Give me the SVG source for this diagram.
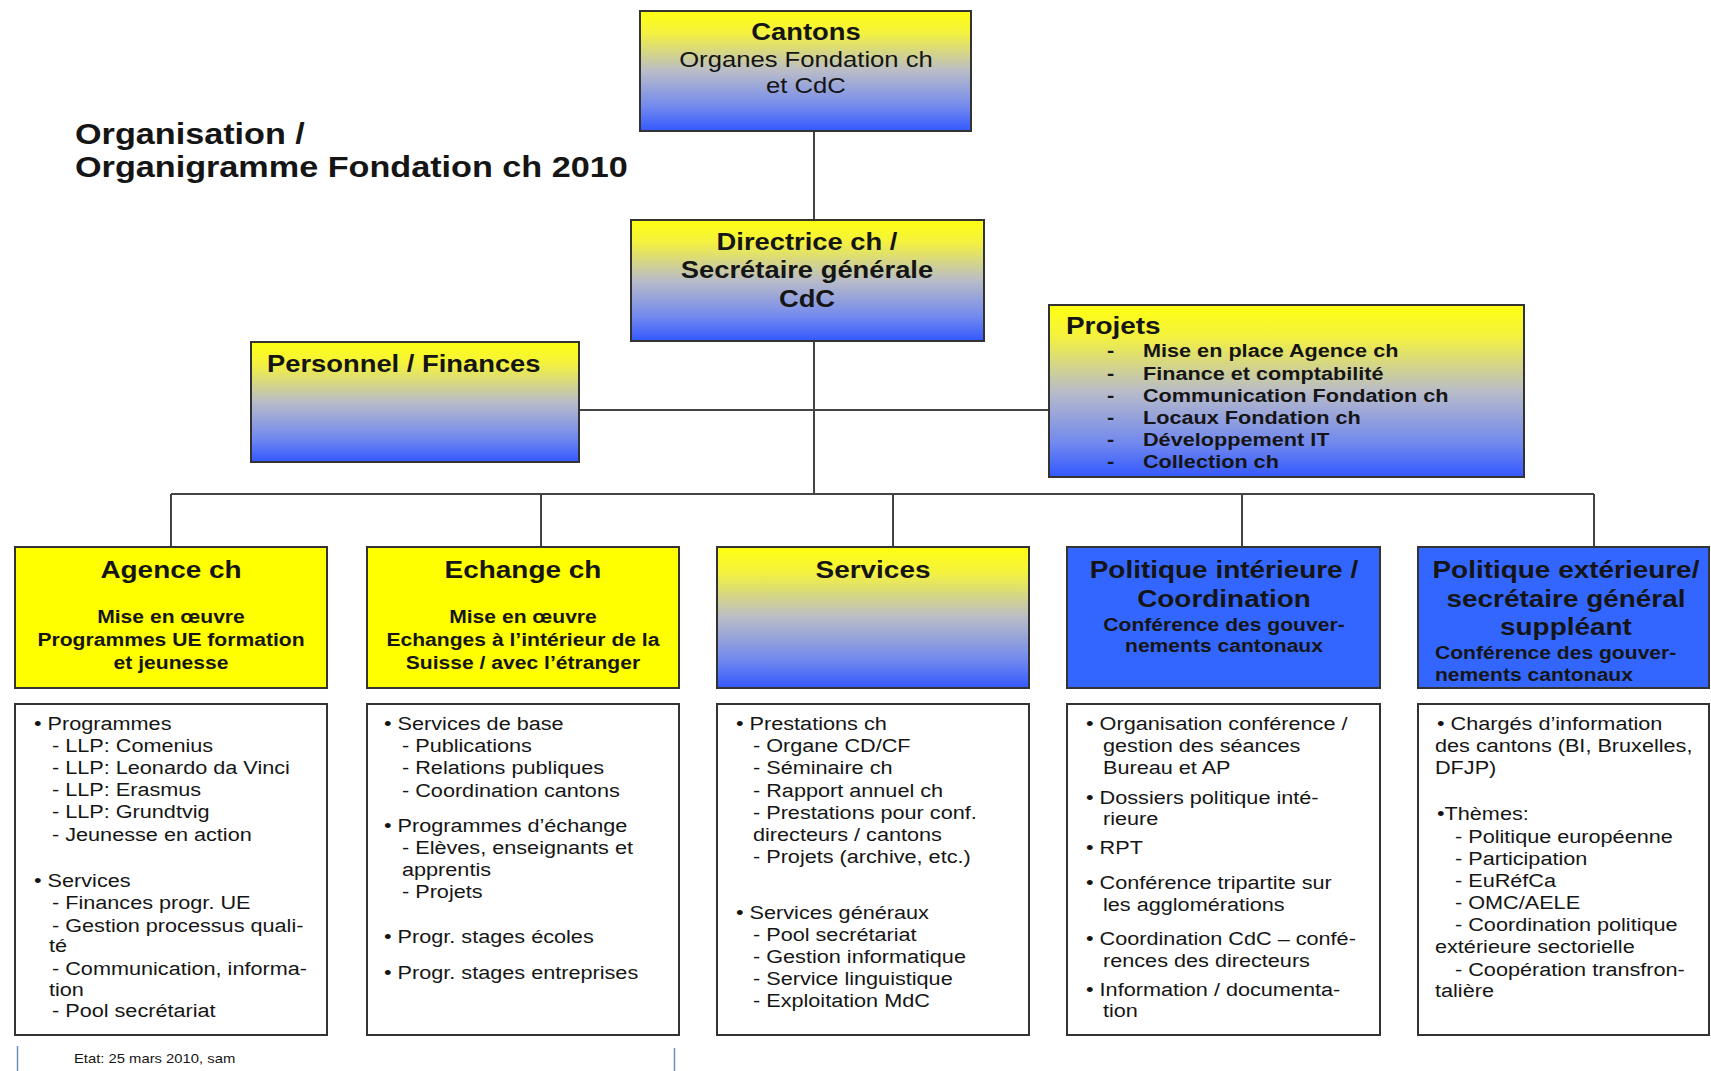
<svg xmlns="http://www.w3.org/2000/svg" width="1711" height="1071" viewBox="0 0 1711 1071">
<defs>
<linearGradient id="yb" x1="0" y1="0" x2="0" y2="1">
<stop offset="0" stop-color="#ffff10"/>
<stop offset="0.18" stop-color="#f4f23e"/>
<stop offset="0.5" stop-color="#b9bcc8"/>
<stop offset="0.8" stop-color="#7289ee"/>
<stop offset="1" stop-color="#3358ff"/>
</linearGradient>
<style>
text { font-family: "Liberation Sans", Arial, sans-serif; fill: #151515; transform-box: fill-box; transform-origin: 0 0; transform: scaleX(1.14); }
text.c { text-anchor: middle; transform-origin: 50% 0; }
.b { font-weight: bold; }
.h { font-size: 24.5px; font-weight: bold; }
.s { font-size: 18.5px; font-weight: bold; }
.p { font-size: 19px; }
.pj { font-size: 19px; font-weight: bold; }
.g { fill: url(#yb); stroke: #333; stroke-width: 2; }
.y { fill: #ffff00; stroke: #333; stroke-width: 2; }
.bl { fill: #3366ff; stroke: #333; stroke-width: 2; }
.w { fill: #ffffff; stroke: #333; stroke-width: 2; }
</style>
</defs>
<rect width="1711" height="1071" fill="#ffffff"/>

<g id="title">
<text class="b" x="75" y="144" font-size="30">Organisation /</text>
<text class="b" x="75" y="177" font-size="30">Organigramme Fondation ch 2010</text>
</g>

<g id="connectors" stroke="#444" stroke-width="2" fill="none">
<path d="M814 131V220"/>
<path d="M814 341V494"/>
<path d="M579 410H1049"/>
<path d="M171 494H1594"/>
<path d="M171 494V547M541 494V547M893 494V547M1242 494V547M1594 494V547"/>
</g>

<g id="cantons">
<rect class="g" x="640" y="11" width="331" height="120"/>
<text class="c b" x="806" y="40" font-size="24">Cantons</text>
<text class="c" x="806" y="67" font-size="22.5">Organes Fondation ch</text>
<text class="c" x="806" y="93" font-size="22.5">et CdC</text>
</g>

<g id="directrice">
<rect class="g" x="631" y="220" width="353" height="121"/>
<text class="c b" x="807" y="250" font-size="24">Directrice ch /</text>
<text class="c b" x="807" y="278" font-size="24">Secrétaire générale</text>
<text class="c b" x="807" y="307" font-size="24">CdC</text>
</g>

<g id="personnel">
<rect class="g" x="251" y="342" width="328" height="120"/>
<text class="b" x="267" y="372" font-size="24">Personnel / Finances</text>
</g>

<g id="projets">
<rect class="g" x="1049" y="305" width="475" height="172"/>
<text class="b" x="1066" y="334" font-size="24.5">Projets</text>
<text class="pj" x="1107" y="357">-</text><text class="pj" x="1143" y="357">Mise en place Agence ch</text>
<text class="pj" x="1107" y="380">-</text><text class="pj" x="1143" y="380">Finance et comptabilité</text>
<text class="pj" x="1107" y="402">-</text><text class="pj" x="1143" y="402">Communication Fondation ch</text>
<text class="pj" x="1107" y="424">-</text><text class="pj" x="1143" y="424">Locaux Fondation ch</text>
<text class="pj" x="1107" y="446">-</text><text class="pj" x="1143" y="446">Développement IT</text>
<text class="pj" x="1107" y="468">-</text><text class="pj" x="1143" y="468">Collection ch</text>
</g>

<g id="agence">
<rect class="y" x="15" y="547" width="312" height="141"/>
<text class="c h" x="171" y="578">Agence ch</text>
<text class="c s" x="171" y="623">Mise en œuvre</text>
<text class="c s" x="171" y="646">Programmes UE formation</text>
<text class="c s" x="171" y="669">et jeunesse</text>
<rect class="w" x="15" y="704" width="312" height="331"/>
<text class="p" x="34" y="730">• Programmes</text>
<text class="p" x="52" y="752">- LLP: Comenius</text>
<text class="p" x="52" y="774">- LLP: Leonardo da Vinci</text>
<text class="p" x="52" y="796">- LLP: Erasmus</text>
<text class="p" x="52" y="818">- LLP: Grundtvig</text>
<text class="p" x="52" y="841">- Jeunesse en action</text>
<text class="p" x="34" y="887">• Services</text>
<text class="p" x="52" y="909">- Finances progr. UE</text>
<text class="p" x="52" y="932">- Gestion processus quali-</text>
<text class="p" x="49" y="952">té</text>
<text class="p" x="52" y="975">- Communication, informa-</text>
<text class="p" x="49" y="996">tion</text>
<text class="p" x="52" y="1017">- Pool secrétariat</text>
</g>

<g id="echange">
<rect class="y" x="367" y="547" width="312" height="141"/>
<text class="c h" x="523" y="578">Echange ch</text>
<text class="c s" x="523" y="623">Mise en œuvre</text>
<text class="c s" x="523" y="646">Echanges à l’intérieur de la</text>
<text class="c s" x="523" y="669">Suisse / avec l’étranger</text>
<rect class="w" x="367" y="704" width="312" height="331"/>
<text class="p" x="384" y="730">• Services de base</text>
<text class="p" x="402" y="752">- Publications</text>
<text class="p" x="402" y="774">- Relations publiques</text>
<text class="p" x="402" y="797">- Coordination cantons</text>
<text class="p" x="384" y="832">• Programmes d’échange</text>
<text class="p" x="402" y="854">- Elèves, enseignants et</text>
<text class="p" x="402" y="876">apprentis</text>
<text class="p" x="402" y="898">- Projets</text>
<text class="p" x="384" y="943">• Progr. stages écoles</text>
<text class="p" x="384" y="979">• Progr. stages entreprises</text>
</g>

<g id="services">
<rect class="g" x="717" y="547" width="312" height="141"/>
<text class="c h" x="873" y="578">Services</text>
<rect class="w" x="717" y="704" width="312" height="331"/>
<text class="p" x="736" y="730">• Prestations ch</text>
<text class="p" x="753" y="752">- Organe CD/CF</text>
<text class="p" x="753" y="774">- Séminaire ch</text>
<text class="p" x="753" y="797">- Rapport annuel ch</text>
<text class="p" x="753" y="819">- Prestations pour conf.</text>
<text class="p" x="753" y="841">directeurs / cantons</text>
<text class="p" x="753" y="863">- Projets (archive, etc.)</text>
<text class="p" x="736" y="919">• Services généraux</text>
<text class="p" x="753" y="941">- Pool secrétariat</text>
<text class="p" x="753" y="963">- Gestion informatique</text>
<text class="p" x="753" y="985">- Service linguistique</text>
<text class="p" x="753" y="1007">- Exploitation MdC</text>
</g>

<g id="politique-interieure">
<rect class="bl" x="1067" y="547" width="313" height="141"/>
<text class="c h" x="1224" y="578">Politique intérieure /</text>
<text class="c h" x="1224" y="607">Coordination</text>
<text class="c s" x="1224" y="631">Conférence des gouver-</text>
<text class="c s" x="1224" y="652">nements cantonaux</text>
<rect class="w" x="1067" y="704" width="313" height="331"/>
<text class="p" x="1086" y="730">• Organisation conférence /</text>
<text class="p" x="1103" y="752">gestion des séances</text>
<text class="p" x="1103" y="774">Bureau et AP</text>
<text class="p" x="1086" y="804">• Dossiers politique inté-</text>
<text class="p" x="1103" y="825">rieure</text>
<text class="p" x="1086" y="854">• RPT</text>
<text class="p" x="1086" y="889">• Conférence tripartite sur</text>
<text class="p" x="1103" y="911">les agglomérations</text>
<text class="p" x="1086" y="945">• Coordination CdC – confé-</text>
<text class="p" x="1103" y="967">rences des directeurs</text>
<text class="p" x="1086" y="996">• Information / documenta-</text>
<text class="p" x="1103" y="1017">tion</text>
</g>

<g id="politique-exterieure">
<rect class="bl" x="1418" y="547" width="291" height="141"/>
<text class="c h" x="1566" y="578">Politique extérieure/</text>
<text class="c h" x="1566" y="607">secrétaire général</text>
<text class="c h" x="1566" y="635">suppléant</text>
<text class="s" x="1435" y="659">Conférence des gouver-</text>
<text class="s" x="1435" y="681">nements cantonaux</text>
<rect class="w" x="1418" y="704" width="291" height="331"/>
<text class="p" x="1437" y="730">• Chargés d’information</text>
<text class="p" x="1435" y="752">des cantons (BI, Bruxelles,</text>
<text class="p" x="1435" y="774">DFJP)</text>
<text class="p" x="1437" y="820">•Thèmes:</text>
<text class="p" x="1455" y="843">- Politique européenne</text>
<text class="p" x="1455" y="865">- Participation</text>
<text class="p" x="1455" y="887">- EuRéfCa</text>
<text class="p" x="1455" y="909">- OMC/AELE</text>
<text class="p" x="1455" y="931">- Coordination politique</text>
<text class="p" x="1435" y="953">extérieure sectorielle</text>
<text class="p" x="1455" y="976">- Coopération transfron-</text>
<text class="p" x="1435" y="997">talière</text>
</g>

<g id="footer">
<path d="M17.5 1046V1071M674.5 1048V1071" stroke="#6f8fc0" stroke-width="1.5" fill="none"/>
<text x="74" y="1063" font-size="13">Etat: 25 mars 2010, sam</text>
</g>
</svg>
